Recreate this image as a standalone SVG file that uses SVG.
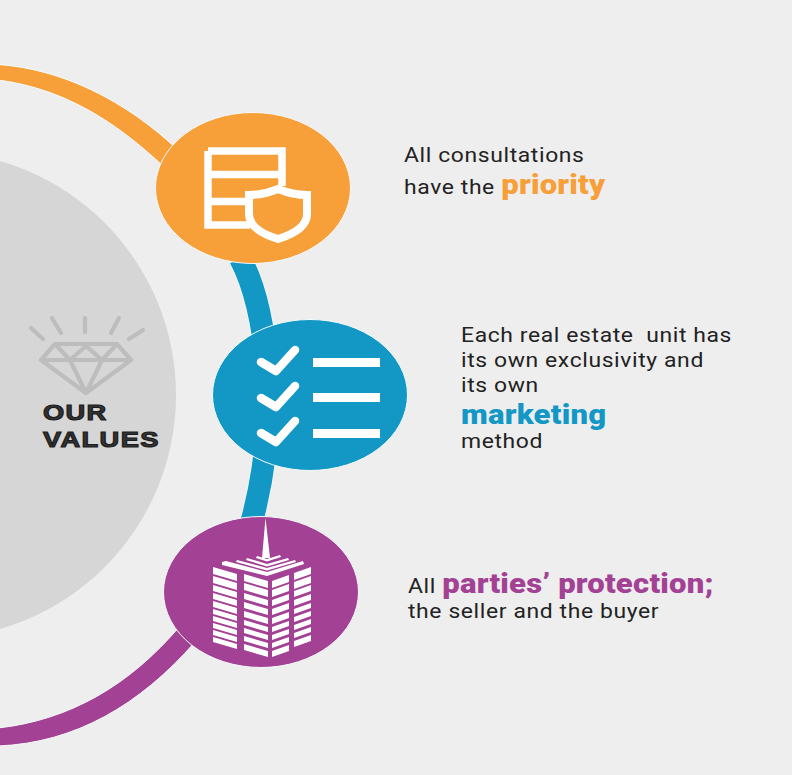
<svg xmlns="http://www.w3.org/2000/svg" width="792" height="775" viewBox="0 0 792 775">
<style>
.t{font-family:Roboto,"Liberation Sans",sans-serif;font-size:20.5px;fill:#222;letter-spacing:.55px;white-space:pre}
.b{font-family:Roboto,"Liberation Sans",sans-serif;font-weight:900;font-size:27.800px;letter-spacing:.2px}
.v{font-family:"Liberation Sans",Arial,sans-serif;font-weight:700;font-size:22px;fill:#333;stroke:#1c1c1c;stroke-width:1.1px;letter-spacing:1.1px}
.w{fill:none;stroke:#fff;stroke-width:7.5}
.c{fill:none;stroke:#fff;stroke-width:8.5;stroke-linecap:round;stroke-linejoin:round}
.d{fill:none;stroke:#bdbdbd;stroke-width:4.2;stroke-linejoin:round;stroke-linecap:round}
.f{fill:#fff}
.e{stroke:#f6fafa;stroke-width:1}
</style>
<rect width="792" height="775" fill="#eeeeee"/>
<g id="core">
<circle cx="-67.600" cy="395" r="243.600" fill="#d6d6d6"/>
<g>
<path class="d" d="M31 328L43 339M52 318L61 333M85 318V332M119 318L111 333M143 330L129 339"/>
<path class="d" d="M55 344H117L131 360L86 393L41 360ZM41 360H131M55 344L70 360L86 393L102 360L117 344M70 360L86 346L102 360"/>
</g>
<text class="v" transform="translate(43 420) scale(1.24 1)">OUR</text>
<text class="v" transform="translate(43 446.500) scale(1.24 1)">VALUES</text>
</g>
<g id="connectors">
<path class="e" fill="#f79f39" d="M-2 64.500C62 69 125 100 178 150L163 166C112 118 60 88 -2 80Z"/>
<path stroke="#f6fafa" stroke-width="24" fill="none" d="M240 258C268 310 280 420 251 524"/>
<path stroke="#1398c6" stroke-width="22.500" fill="none" d="M240 258C268 310 280 420 251 524"/>
<path class="e" fill="#a34294" d="M-2 728C70 720 130 685 180 626L195 642C140 705 75 743 -2 746Z"/>
</g>
<g id="node-priority">
<ellipse class="e" cx="253" cy="188" rx="97.500" ry="75.500" fill="#f79f39"/>
<path class="w" d="M208 151H282V186M208 151V225H250M208 174.500H282M208 201.500H248"/>
<path d="M278 189C268 193 260 195 249 195V214C249 227 262 234 278 239C294 234 307 227 307 214V195C296 195 288 193 278 189Z" fill="#f79f39" stroke="#fff" stroke-width="8"/>
</g>
<g id="node-marketing">
<ellipse class="e" cx="310" cy="395" rx="97.500" ry="75.500" fill="#1398c6"/>
<path class="c" d="M261 362L276 371L295 350M261 398L276 407L295 386M261 433L276 442L295 421"/>
<path class="f" d="M313 358H380V367H313ZM313 393H380V402H313ZM313 429H380V438H313Z"/>
</g>
<g id="node-protection">
<ellipse class="e" cx="261" cy="592" rx="97.500" ry="75.500" fill="#a34294"/>
<g class="f">
<path d="M265.500 518L270 558H262Z"/>
<path d="M257 556L267 559L280 555L281 557L267 561.500L256 558ZM247 558L267 564L288 558L289 560L267 566.500L246 560ZM237 560L267 568L295 560L296 562L267 570.500L236 562ZM222 562L226 561L267 572L303 561L304 564L267 576L222 565Z"/>
<path d="M213 567L237 574V581L213 574ZM213 576L237 583V590L213 583ZM213 585L237 592V598L213 591ZM213 593L237 600V606L213 599ZM213 601L237 608V614L213 607ZM213 609L237 616V621L213 614ZM213 616L237 623V628L213 621ZM213 623L237 630V635L213 628ZM213 630L237 637V642L213 635ZM213 637L237 644V649L213 642Z"/>
<path d="M244 574L268 581V588L244 581ZM244 583L268 590V597L244 590ZM244 593L268 600V606L244 599ZM244 602L268 609V615L244 608ZM244 611L268 618V624L244 617ZM244 620L268 627V632L244 625ZM244 628L268 635V640L244 633ZM244 636L268 643V648L244 641ZM244 644L268 651V657L244 650Z"/>
<path d="M272 581L289 575V582L272 588ZM272 590L289 584V591L272 597ZM272 600L289 594V600L272 606ZM272 609L289 603V609L272 615ZM272 618L289 612V618L272 624ZM272 627L289 621V626L272 632ZM272 635L289 629V634L272 640ZM272 643L289 637V642L272 648ZM272 651L289 645V651L272 657Z"/>
<path d="M294 573L311 567V574L294 580ZM294 582L311 576V583L294 589ZM294 591L311 585V591L294 597ZM294 600L311 594V600L294 606ZM294 609L311 603V608L294 614ZM294 617L311 611V616L294 622ZM294 625L311 619V624L294 630ZM294 633L311 627V632L294 638ZM294 641L311 635V641L294 647Z"/>
</g>
</g>
<g id="label-priority">
<text class="t" transform="translate(404 162) scale(1.118 1)">All consultations</text>
<text class="t" transform="translate(404 194) scale(1.118 1)">have the <tspan class="b" fill="#f79f39">priority</tspan></text>
</g>
<g id="label-marketing">
<text class="t" transform="translate(461 342) scale(1.118 1)">Each real estate  unit has</text>
<text class="t" transform="translate(461 367) scale(1.118 1)">its own exclusivity and</text>
<text class="t" transform="translate(461 392) scale(1.118 1)">its own</text>
<text class="b" transform="translate(461 424) scale(1.118 1)" fill="#1398c6">marketing</text>
<text class="t" transform="translate(461 448) scale(1.118 1)">method</text>
</g>
<g id="label-protection">
<text class="t" transform="translate(408 593) scale(1.118 1)">All <tspan class="b" fill="#a34294">parties’ protection;</tspan></text>
<text class="t" transform="translate(408 618) scale(1.118 1)">the seller and the buyer</text>
</g>
</svg>
